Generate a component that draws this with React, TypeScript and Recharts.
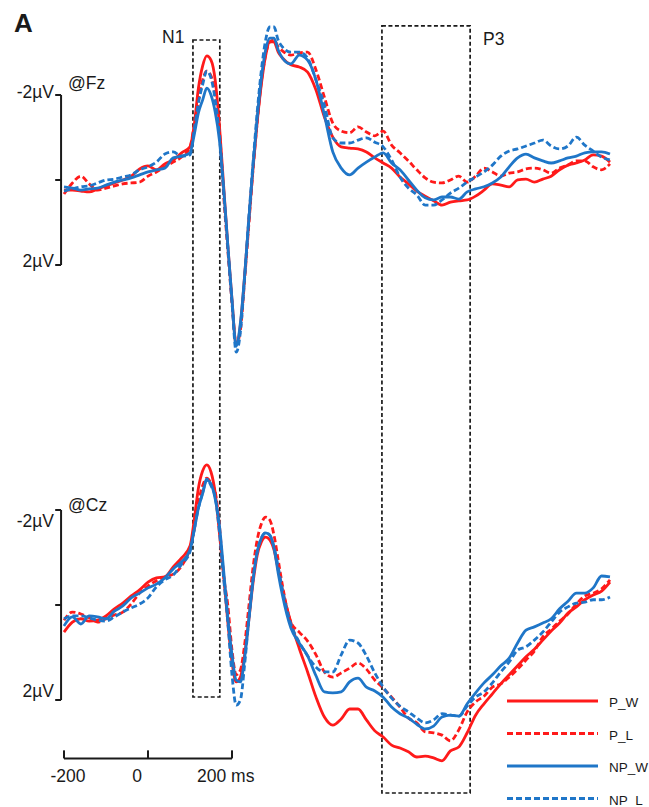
import {
  ComposedChart,
  Legend,
  Line,
  ReferenceArea,
  ReferenceLine,
  XAxis,
  YAxis,
} from "recharts";

const RED = "#ff1a1a";
const BLUE = "#1f76c8";
const INK = "#1a1a1a";
const FONT = "'Liberation Sans', Arial, sans-serif";
const DASH = "6 3";

// sample times, ms
const times = [
  -200, -180, -160, -140, -120, -100, -80, -60, -40, -20,
  0, 20, 40, 60, 80, 100,
  110, 120, 130, 140, 150, 160, 170, 180, 190, 200, 210, 220, 230, 240, 250, 260, 270, 280, 290, 300, 310, 320,
  340, 360, 380, 400, 420, 440, 460, 480, 500, 520,
  540, 560, 580, 600, 620, 640, 660, 680, 700, 720,
  740, 760, 780, 800, 820, 840, 860, 880, 900, 920,
  940, 960, 980, 1000, 1020, 1040, 1060, 1080, 1100,
];

// @Fz, µV (negative plotted up)
const fzPW = [
  0.24, 0.24, 0.26, 0.28, 0.21, 0.14, 0.07, 0, -0.09, -0.26,
  -0.33, -0.24, -0.38, -0.47, -0.64, -0.78,
  -1.29, -2.16, -2.68, -2.92, -2.82, -2.35, -1.29, 0.12, 1.53, 2.82, 3.88, 3.41, 2.26, 0.96, -0.26, -1.36, -2.26, -2.92, -3.25, -3.25, -3.01, -2.87,
  -2.71, -2.66, -2.54, -2.12, -1.48, -1.01, -0.78, -0.75, -0.73, -0.66,
  -0.52, -0.40, -0.28, -0.07, 0.09, 0.26, 0.38, 0.49, 0.59, 0.52,
  0.49, 0.47, 0.38, 0.24, 0.09, 0.12, 0.16, 0, -0.02, 0.05,
  -0.02, -0.09, -0.24, -0.35, -0.40, -0.47, -0.59, -0.56, -0.42,
];
const fzPL = [
  0.33, 0.07, -0.09, 0.09, 0.24, 0.19, 0.14, 0.09, 0.07, 0.05,
  -0.09, -0.19, -0.31, -0.42, -0.54, -0.78,
  -1.29, -1.88, -2.35, -2.56, -2.45, -2.0, -1.18, 0.35, 1.65, 2.89, 3.86, 3.53, 2.35, 1.06, -0.24, -1.36, -2.31, -2.94, -3.25, -3.29, -3.13, -3.04,
  -2.94, -2.99, -3.01, -2.59, -1.95, -1.34, -1.15, -1.11, -1.25, -1.13,
  -1.04, -1.15, -0.82, -0.64, -0.45, -0.24, -0.05, 0.05, 0.07, 0,
  -0.09, 0.05, -0.09, -0.28, -0.19, -0.09, -0.16, -0.19, -0.26, -0.28,
  -0.24, -0.16, -0.28, -0.35, -0.45, -0.45, -0.31, -0.24, -0.38,
];
const fzNPW = [
  0.16, 0.19, 0.24, 0.21, 0.19, 0.12, 0.05, 0, -0.05, -0.12,
  -0.19, -0.24, -0.28, -0.52, -0.56, -0.64,
  -1.06, -1.58, -1.88, -2.16, -2.0, -1.6, -0.94, 0.19, 1.53, 2.82, 3.91, 3.36, 2.26, 0.94, -0.33, -1.46, -2.4, -3.06, -3.34, -3.34, -3.06, -2.87,
  -2.73, -2.94, -2.82, -2.35, -1.53, -0.66, -0.28, -0.12, -0.28, -0.42,
  -0.54, -0.64, -0.40, -0.24, 0, 0.24, 0.42, 0.47, 0.40, 0.40,
  0.45, 0.28, 0.21, 0.16, 0.07, -0.07, -0.31, -0.52, -0.61, -0.52,
  -0.45, -0.40, -0.45, -0.52, -0.56, -0.64, -0.66, -0.66, -0.61,
];
const fzNPL = [
  0.26, 0.21, 0.16, 0.14, 0.07, 0, -0.02, -0.07, -0.12, -0.24,
  -0.31, -0.42, -0.61, -0.66, -0.56, -0.59,
  -1.18, -1.81, -2.24, -2.56, -2.4, -1.88, -1.06, 0.24, 1.58, 2.89, 4.05, 3.58, 2.31, 0.89, -0.4, -1.6, -2.59, -3.29, -3.6, -3.6, -3.29, -3.13,
  -3.01, -3.01, -2.87, -2.35, -1.76, -0.99, -0.87, -0.87, -0.94, -0.99,
  -0.89, -0.78, -0.47, -0.07, 0.19, 0.35, 0.59, 0.59, 0.47, 0.31,
  0.19, 0.05, -0.07, -0.19, -0.35, -0.56, -0.68, -0.73, -0.80, -0.87,
  -0.94, -0.80, -0.73, -0.80, -1.01, -0.82, -0.68, -0.54, -0.47,
];

// @Cz, µV
const czPW = [
  0.57, 0.36, 0.29, 0.34, 0.32, 0.23, 0.08, -0.04, -0.19, -0.32,
  -0.48, -0.57, -0.59, -0.80, -0.99, -1.24,
  -1.79, -2.46, -2.82, -2.95, -2.8, -2.36, -1.52, -0.63, 0.36, 1.2, 1.62, 1.52, 1.05, 0.32, -0.46, -1.05, -1.33, -1.43, -1.37, -1.16, -0.74, -0.32,
  0.36, 0.91, 1.41, 1.94, 2.36, 2.53, 2.40, 2.19, 2.19, 2.42,
  2.65, 2.78, 2.95, 3.01, 3.09, 3.20, 3.18, 3.22, 3.28, 3.07,
  2.99, 2.69, 2.32, 2.08, 1.87, 1.66, 1.47, 1.28, 1.09, 0.93,
  0.74, 0.55, 0.38, 0.17, 0.04, -0.11, -0.21, -0.29, -0.48,
];
const czPL = [
  0.32, 0.15, 0.19, 0.27, 0.36, 0.29, 0.21, 0.15, -0.02, -0.25,
  -0.40, -0.51, -0.59, -0.65, -0.82, -1.20,
  -1.58, -2.15, -2.51, -2.67, -2.57, -2.38, -1.68, -0.63, 0, 0.95, 1.47, 1.37, 0.84, 0.04, -0.78, -1.37, -1.71, -1.85, -1.79, -1.47, -0.95, -0.42,
  0.36, 0.57, 0.76, 1.05, 1.41, 1.52, 1.43, 1.33, 1.22, 1.35,
  1.58, 1.75, 1.94, 2.15, 2.38, 2.48, 2.67, 2.69, 2.74, 2.86,
  2.63, 2.25, 2.04, 1.92, 1.73, 1.66, 1.52, 1.35, 1.16, 0.97,
  0.67, 0.51, 0.34, 0.19, -0.02, -0.19, -0.25, -0.34, -0.53,
];
const czNPW = [
  0.44, 0.25, 0.40, 0.23, 0.25, 0.29, 0.13, 0.02, -0.15, -0.25,
  -0.36, -0.44, -0.57, -0.76, -0.91, -1.16,
  -1.58, -2.04, -2.34, -2.63, -2.55, -2.23, -1.68, -0.74, 0.25, 1.05, 1.58, 1.62, 1.12, 0.32, -0.53, -1.12, -1.41, -1.52, -1.47, -1.2, -0.67, -0.21,
  0.48, 0.80, 1.07, 1.49, 1.83, 1.85, 1.83, 1.62, 1.54, 1.73,
  1.81, 1.94, 2.15, 2.29, 2.38, 2.51, 2.61, 2.55, 2.36, 2.32,
  2.34, 2.08, 1.85, 1.64, 1.47, 1.28, 1.12, 0.80, 0.53, 0.46,
  0.38, 0.29, 0.08, -0.08, -0.25, -0.25, -0.36, -0.61, -0.59,
];
const czNPL = [
  0.29, 0.23, 0.23, 0.27, 0.32, 0.34, 0.25, 0.15, 0.06, -0.02,
  -0.15, -0.38, -0.53, -0.63, -0.86, -1.12,
  -1.58, -2.04, -2.36, -2.65, -2.51, -2.27, -1.54, -0.57, 0.36, 1.47, 2.11, 2.0, 1.26, 0.32, -0.53, -1.12, -1.41, -1.52, -1.47, -1.22, -0.8, -0.32,
  0.40, 0.78, 1.07, 1.31, 1.41, 1.41, 1.05, 0.74, 0.80, 1.07,
  1.43, 1.73, 1.96, 2.13, 2.25, 2.38, 2.48, 2.42, 2.29, 2.32,
  2.34, 2.13, 1.94, 1.83, 1.64, 1.41, 1.20, 0.95, 0.88, 0.74,
  0.57, 0.36, 0.15, 0.04, -0.04, -0.06, -0.11, -0.11, -0.17,
];

// analysis windows, ms
const n1Window = [107, 171];
const p3Window = [557, 767];

// scale bars
const uvTicks = [-2, 0, 2];
const msTicks = [-200, 0, 200];

const series = [
  { key: "PW", name: "P_W", color: RED, dash: undefined },
  { key: "PL", name: "P_L", color: RED, dash: DASH },
  { key: "NPW", name: "NP_W", color: BLUE, dash: undefined },
  { key: "NPL", name: "NP_L", color: BLUE, dash: DASH },
];
const drawOrder = ["PL", "PW", "NPL", "NPW"];

const rows = times.map((t, i) => ({
  t,
  fzPW: fzPW[i],
  fzPL: fzPL[i],
  fzNPW: fzNPW[i],
  fzNPL: fzNPL[i],
  czPW: czPW[i],
  czPL: czPL[i],
  czNPW: czNPW[i],
  czNPL: czNPL[i],
}));

const W = 649;
const H = 807;

const txt = { fontFamily: FONT, fontSize: 17.5, fill: INK };

const LegendBox = () => (
  <svg width={149} height={117} style={{ display: "block", overflow: "visible" }}>
    {series.map((s, i) => (
      <g key={s.key}>
        <line
          x1={7}
          x2={98}
          y1={11 + i * 32.5}
          y2={11 + i * 32.5}
          stroke={s.color}
          strokeWidth={2.8}
          strokeDasharray={s.dash}
        />
        <text x={109} y={17 + i * 32.5} fontFamily={FONT} fontSize={13.5} fill={INK}>
          {s.name}
        </text>
      </g>
    ))}
  </svg>
);

function scaleBar(axis: string) {
  return [
    <ReferenceLine
      key={axis + "-bar"}
      yAxisId={axis}
      segment={[{ x: -207, y: -2 }, { x: -207, y: 2 }]}
      stroke={INK}
      strokeWidth={2}
    />,
    ...uvTicks.map((v) => (
      <ReferenceLine
        key={axis + "-tick" + v}
        yAxisId={axis}
        segment={[{ x: -221, y: v }, { x: -207, y: v }]}
        stroke={INK}
        strokeWidth={2}
      />
    )),
  ];
}

export default function App() {
  return (
    <div style={{ position: "absolute", left: 0, top: 0, width: W, height: H, background: "#fff" }}>
      <ComposedChart width={W} height={H} data={rows} margin={{ top: 0, right: 0, bottom: 0, left: 0 }}>
        <XAxis dataKey="t" type="number" domain={[-352.4, 1192.9]} allowDataOverflow hide />
        <YAxis yAxisId="fz" type="number" reversed domain={[-4.235, 14.753]} allowDataOverflow hide />
        <YAxis yAxisId="cz" type="number" reversed domain={[-12.737, 4.253]} allowDataOverflow hide />

        <ReferenceArea
          yAxisId="fz"
          x1={n1Window[0]}
          x2={n1Window[1]}
          y1={-3.294}
          y2={12.165}
          fill="none"
          stroke={INK}
          strokeWidth={1.7}
          strokeDasharray="4 2.5"
        />
        <ReferenceArea
          yAxisId="fz"
          x1={p3Window[0]}
          x2={p3Window[1]}
          y1={-3.624}
          y2={14.424}
          fill="none"
          stroke={INK}
          strokeWidth={1.7}
          strokeDasharray="4 2.5"
        />

        {scaleBar("fz")}
        {scaleBar("cz")}

        <ReferenceLine
          yAxisId="fz"
          segment={[{ x: msTicks[0], y: 13.61 }, { x: msTicks[2], y: 13.61 }]}
          stroke={INK}
          strokeWidth={2}
        />
        {msTicks.map((m) => (
          <ReferenceLine
            key={"ms" + m}
            yAxisId="fz"
            segment={[{ x: m, y: 13.42 }, { x: m, y: 13.61 }]}
            stroke={INK}
            strokeWidth={2}
          />
        ))}

        {["fz", "cz"].flatMap((panel) =>
          drawOrder.map((k) => {
            const s = series.find((d) => d.key === k)!;
            return (
              <Line
                key={panel + k}
                yAxisId={panel}
                dataKey={panel + k}
                name={s.name}
                type="monotone"
                stroke={s.color}
                strokeWidth={2.8}
                strokeDasharray={s.dash}
                dot={false}
                activeDot={false}
                legendType="none"
                isAnimationActive={false}
              />
            );
          }),
        )}

        <Legend
          layout="horizontal"
          verticalAlign="middle"
          align="center"
          wrapperStyle={{ left: 500, top: 690, width: 149, height: 117 }}
          content={() => <LegendBox />}
        />

        <text x={14} y={32} fontFamily={FONT} fontSize={26} fontWeight="bold" fill={INK}>A</text>
        <text x={162} y={43} {...txt}>N1</text>
        <text x={483} y={45} {...txt}>P3</text>
        <text x={68} y={89} {...txt}>@Fz</text>
        <text x={54} y={98} textAnchor="end" {...txt}>-2µV</text>
        <text x={54} y={267} textAnchor="end" {...txt}>2µV</text>
        <text x={68} y={511} {...txt}>@Cz</text>
        <text x={54} y={527} textAnchor="end" {...txt}>-2µV</text>
        <text x={54} y={697} textAnchor="end" {...txt}>2µV</text>
        <text x={68} y={782} textAnchor="middle" {...txt}>-200</text>
        <text x={137} y={782} textAnchor="middle" {...txt}>0</text>
        <text x={197} y={782} {...txt}>200 ms</text>
      </ComposedChart>
    </div>
  );
}
